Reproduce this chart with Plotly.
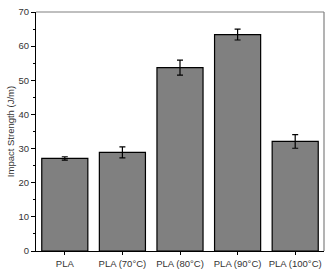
import plotly.graph_objects as go

categories = ["PLA", "PLA (70°C)", "PLA (80°C)", "PLA (90°C)", "PLA (100°C)"]
values = [27.1, 28.9, 53.7, 63.4, 32.1]
errors = [0.5, 1.6, 2.2, 1.6, 2.0]

fig = go.Figure(go.Bar(
    x=categories, y=values,
    marker=dict(color="#808080", line=dict(color="#000000", width=1.2)),
    error_y=dict(type="data", array=errors, visible=True, color="#000000", thickness=1.2, width=3),
    width=0.8,
))
fig.update_layout(
    width=334, height=276,
    margin=dict(l=36, r=10, t=12, b=25),
    plot_bgcolor="white", paper_bgcolor="white",
    font=dict(family="Liberation Sans, Arial", size=9, color="#333333"),
    showlegend=False,
)
fig.update_xaxes(
    range=[-0.5, 4.5], showline=True, linecolor="#000000", linewidth=1.2, mirror=False,
    ticks="outside", ticklen=3, tickcolor="#000000", showgrid=False,
    tickfont=dict(size=9.5), automargin=False, ticklabeloverflow="allow",
)
fig.update_yaxes(
    range=[0, 70], dtick=10, showline=True, linecolor="#000000", linewidth=1.2,
    ticks="outside", ticklen=4, tickcolor="#000000", showgrid=False, zeroline=False,
    minor=dict(ticks="outside", ticklen=2, dtick=5, tickcolor="#000000"),
    title=dict(text="Impact Strength (J/m)", font=dict(size=9.5), standoff=2),
    tickfont=dict(size=9.5), automargin=False, ticklabeloverflow="allow",
)
# top and right frame lines
fig.add_shape(type="line", xref="paper", yref="paper", x0=0, x1=1, y0=1, y1=1,
              line=dict(color="#808080", width=1.2))
fig.add_shape(type="line", xref="paper", yref="paper", x0=1, x1=1, y0=0, y1=1,
              line=dict(color="#808080", width=1.2))
fig.write_html("out.html", config={"displayModeBar": False},
               post_script="document.body.style.margin='0';")
